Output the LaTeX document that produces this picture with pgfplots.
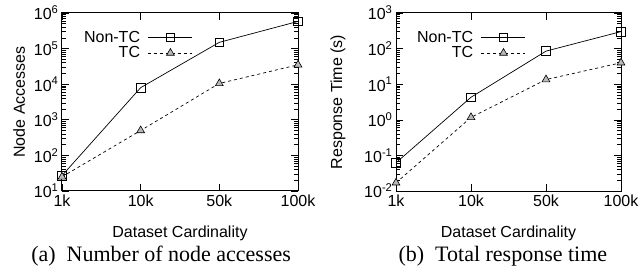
\documentclass[border=0pt]{standalone}
\usepackage{pgfplots}
\pgfplotsset{compat=1.18}
\usepackage{fontspec}
\setmainfont{Liberation Sans}
\newfontfamily\capfont{Liberation Serif}
\pgfplotsset{
  longlegend/.style={
    legend image code/.code={
      \draw[##1, mark repeat=2, mark phase=2] plot coordinates {(0pt,0pt) (22pt,0pt) (44pt,0pt)};
    },
  },
}
\begin{document}
\begin{tikzpicture}
% ---------- (a) ----------
\begin{axis}[
  scale only axis,
  at={(0pt,0pt)}, anchor=south west,
  width=236pt, height=178pt,
  ymode=log,
  xmin=0, xmax=3,
  xtick={0,1,2,3},
  xticklabels={1k,10k,50k,100k},
  tick align=inside,
  major tick length=7pt,
  minor tick length=4pt,
  axis line style={line width=1pt},
  tick style={line width=0.6pt, black},
  xlabel style={font=\fontsize{16}{19}\selectfont},
  ylabel style={font=\fontsize{16}{19}\selectfont},
  tick label style={font=\fontsize{16}{19}\selectfont},
  longlegend,
  legend cell align=right,
  legend plot pos=right,
  legend style={draw=none, fill=none, font=\fontsize{16}{19}\selectfont, row sep=-1pt, column sep=6pt, inner sep=0pt, outer sep=0pt, at={(0.085,0.91)}, anchor=north west},
  clip=false,
  ymin=10, ymax=1e6,
  ytick={1e1,1e2,1e3,1e4,1e5,1e6},
  yticklabels={10\textsuperscript{1},10\textsuperscript{2},10\textsuperscript{3},10\textsuperscript{4},10\textsuperscript{5},10\textsuperscript{6}},
  ylabel={Node Accesses},
  xlabel={Dataset Cardinality},
  every axis y label/.append style={at={(-0.182,0.5)}, anchor=center},
  every axis x label/.append style={at={(0.5,-0.236)}, anchor=center},
]
\addplot[black, line width=0.7pt, mark=square, mark size=4.3pt, mark options={solid, line width=0.7pt}]
  coordinates {(0,27) (1,8000) (2,150000) (3,580000)};
\addlegendentry{Non-TC}
\addplot[black, line width=0.7pt, dashed, mark=triangle*, mark size=4.5pt, mark options={solid, line width=0.6pt, fill=gray!55}]
  coordinates {(0,25) (1,500) (2,10500) (3,35000)};
\addlegendentry{TC}
\node[font=\capfont\fontsize{22}{26}\selectfont] at (rel axis cs:0.42,-0.365) {(a)\ \ Number of node accesses};
\end{axis}
% ---------- (b) ----------
\begin{axis}[
  scale only axis,
  at={(334pt,0pt)}, anchor=south west,
  width=225pt, height=178pt,
  ymode=log,
  xmin=0, xmax=3,
  xtick={0,1,2,3},
  xticklabels={1k,10k,50k,100k},
  tick align=inside,
  major tick length=7pt,
  minor tick length=4pt,
  axis line style={line width=1pt},
  tick style={line width=0.6pt, black},
  xlabel style={font=\fontsize{16}{19}\selectfont},
  ylabel style={font=\fontsize{16}{19}\selectfont},
  tick label style={font=\fontsize{16}{19}\selectfont},
  longlegend,
  legend cell align=right,
  legend plot pos=right,
  legend style={draw=none, fill=none, font=\fontsize{16}{19}\selectfont, row sep=-1pt, column sep=6pt, inner sep=0pt, outer sep=0pt, at={(0.085,0.91)}, anchor=north west},
  clip=false,
  ymin=0.01, ymax=1000,
  ytick={1e-2,1e-1,1,1e1,1e2,1e3},
  yticklabels={10\textsuperscript{-2},10\textsuperscript{-1},10\textsuperscript{0},10\textsuperscript{1},10\textsuperscript{2},10\textsuperscript{3}},
  ylabel={Response Time (s)},
  xlabel={Dataset Cardinality},
  every axis y label/.append style={at={(-0.258,0.5)}, anchor=center},
  every axis x label/.append style={at={(0.5,-0.236)}, anchor=center},
]
\addplot[black, line width=0.7pt, mark=square, mark size=4.3pt, mark options={solid, line width=0.7pt}]
  coordinates {(0,0.062) (1,4.3) (2,85) (3,300)};
\addlegendentry{Non-TC}
\addplot[black, line width=0.7pt, dashed, mark=triangle*, mark size=4.5pt, mark options={solid, line width=0.6pt, fill=gray!55}]
  coordinates {(0,0.017) (1,1.17) (2,13.5) (3,40)};
\addlegendentry{TC}
\node[font=\capfont\fontsize{22}{26}\selectfont] at (rel axis cs:0.475,-0.365) {(b)\ \ Total response time};
\end{axis}
\pgfresetboundingbox
\useasboundingbox (-62pt,-79pt) rectangle (577pt,191pt);
\end{tikzpicture}
\end{document}
